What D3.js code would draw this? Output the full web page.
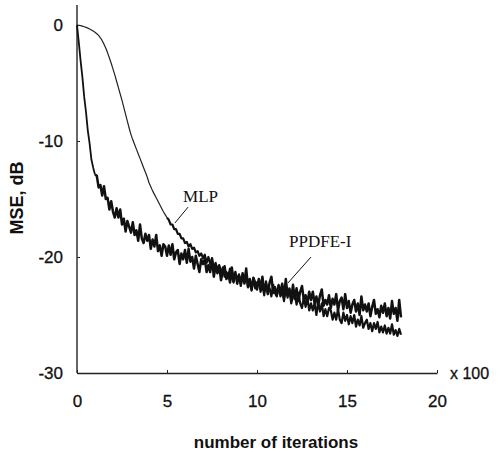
<!DOCTYPE html>
<html>
<head>
<meta charset="utf-8">
<script src="https://cdn.jsdelivr.net/npm/d3@7/dist/d3.min.js"></script>
<style>
  html, body { margin: 0; padding: 0; background: #fff; }
  svg { display: block; }
</style>
</head>
<body>
<svg id="chart" width="500" height="455"></svg>
<script>
// x in hundreds of iterations, sampled every 0.1 (10 iterations)
const iterationStep = 0.1;
const xTicks = [0, 5, 10, 15, 20];
const yTicks = [0, -10, -20, -30];

const mlp = [
  0, -0.02, -0.05, -0.1, -0.15, -0.2, -0.27, -0.35, -0.43, -0.52, -0.62,
  -0.75, -0.9, -1.1, -1.35, -1.65, -2.0, -2.4, -2.85, -3.3, -3.8,
  -4.3, -4.85, -5.4, -5.95, -6.5, -7.1, -7.7, -8.3, -8.9, -9.45,
  -9.9, -10.3, -10.7, -11.1, -11.5, -11.9, -12.3, -12.7, -13.1, -13.6,
  -13.95, -14.3, -14.6, -14.9, -15.2, -15.5, -15.8, -16.1, -16.35, -16.6,
  -16.8, -17.2, -17.2, -17.6, -17.6, -18.0, -18.0, -18.4, -18.4, -18.8,
  -18.7, -19.1, -18.9, -19.3, -19.2, -19.6, -19.5, -19.9, -19.7, -20.1,
  -19.8, -20.5, -20.0, -20.6, -20.2, -20.9, -20.5, -21.1, -20.7, -21.4,
  -20.9, -21.7, -21.3, -21.7, -21.0, -21.8, -22.2, -21.5, -21.9, -21.5,
  -22.5, -21.6, -22.3, -21.5, -22.6, -22.1, -22.9, -21.8, -22.7, -22.2,
  -22.1, -23.0, -22.4, -23.3, -22.1, -23.0, -22.7, -23.4, -22.4, -23.1,
  -23.4, -22.4, -23.4, -22.9, -23.8, -22.7, -23.5, -22.7, -24.0, -23.4,
  -23.3, -24.1, -23.1, -24.0, -24.4, -23.5, -24.3, -23.5, -24.6, -24.0,
  -24.6, -24.0, -25.0, -23.9, -24.7, -24.0, -25.1, -24.5, -25.1, -24.4,
  -24.6, -25.4, -24.8, -25.4, -24.5, -25.4, -25.7, -24.8, -25.5, -25.0,
  -25.8, -25.1, -25.7, -25.0, -26.0, -25.4, -25.9, -25.1, -26.1, -25.7,
  -25.4, -26.2, -25.7, -26.4, -25.7, -26.2, -25.6, -26.5, -26.0, -26.5,
  -25.9, -26.6, -26.1, -26.6, -25.8, -26.7, -26.3, -26.8, -26.2, -26.7
];

const ppdfe = [
  0, -1.5, -3.1, -4.5, -6.2, -7.5, -9.1, -10.2, -11.6, -12.3, -12.9,
  -13.0, -14.0, -13.8, -14.7, -13.9, -15.0, -14.9, -15.9, -15.2, -16.1,
  -16.6, -15.8, -16.6, -15.9, -17.2, -16.7, -17.8, -16.9, -17.4, -17.9,
  -17.0, -18.1, -17.7, -18.6, -17.2, -18.4, -18.8, -18.0, -18.6, -18.1,
  -19.3, -18.5, -19.1, -18.1, -19.5, -19.0, -19.9, -18.9, -19.1, -19.9,
  -19.0, -19.8, -18.9, -20.2, -19.6, -19.4, -20.6, -19.7, -20.2, -19.4,
  -20.5, -19.3, -20.4, -20.0, -21.0, -19.9, -20.6, -21.3, -20.2, -20.6,
  -20.2, -21.3, -20.7, -21.3, -20.1, -21.7, -20.8, -21.4, -20.8, -22.0,
  -21.2, -20.8, -21.9, -21.4, -22.2, -20.9, -22.0, -21.3, -22.3, -21.6,
  -22.3, -21.4, -22.2, -21.0, -22.6, -21.9, -22.8, -21.8, -22.2, -22.8,
  -21.9, -22.7, -21.7, -23.0, -22.3, -23.2, -22.2, -21.7, -23.1, -22.6,
  -23.3, -22.5, -23.0, -22.3, -23.5, -21.9, -23.3, -22.8, -23.6, -22.4,
  -23.6, -22.7, -23.8, -23.0, -22.5, -23.7, -23.3, -24.0, -23.0, -23.7,
  -23.0, -24.0, -23.4, -24.2, -23.3, -22.8, -24.2, -23.7, -24.1, -23.3,
  -24.4, -23.6, -24.1, -23.2, -24.6, -23.8, -23.5, -24.5, -23.2, -24.4,
  -23.8, -24.8, -24.1, -23.7, -24.7, -24.0, -25.0, -23.4, -24.6, -24.1,
  -24.7, -24.0, -25.1, -24.3, -23.7, -24.9, -24.5, -25.2, -24.2, -24.8,
  -24.0, -25.1, -24.4, -25.3, -23.8, -24.9, -24.4, -25.5, -23.7, -25.2
];

// label annotations in data units: [text, labelX, labelY, leaderFromX, leaderFromY, leaderToX, leaderToY]
const labels = [
  ["MLP", 5.89, -15.26, 6.17, -15.7, 5.44, -17.07],
  ["PPDFE-I", 11.78, -19.14, 13.0, -20.0, 11.72, -22.24]
];

const svg = d3.select("#chart");
svg.append("rect").attr("width", 500).attr("height", 455).attr("fill", "#fff");

const x = d3.scaleLinear().domain([0, 20]).range([77, 437]);
const y = d3.scaleLinear().domain([-30, 0]).range([373, 25]);

const sansFont = "'Liberation Sans', Arial, Helvetica, sans-serif";
const serifFont = "'Liberation Serif', 'Times New Roman', serif";
const fmt = d => String(d);

// y axis
const yAxis = svg.append("g")
  .attr("transform", `translate(${x(0)},0)`)
  .call(d3.axisLeft(y).tickValues(yTicks).tickSizeInner(-3).tickSizeOuter(0).tickPadding(14)
    .tickFormat(fmt));
yAxis.select(".domain").remove();
yAxis.append("line")
  .attr("x1", 0).attr("x2", 0)
  .attr("y1", y(-30)).attr("y2", y(0) - 20)
  .attr("stroke", "#333").attr("stroke-width", 1.5);
yAxis.selectAll(".tick line").attr("stroke", "#222");
yAxis.selectAll(".tick text")
  .attr("font-family", sansFont).attr("font-size", 17).attr("fill", "#111")
  .attr("stroke", "#111").attr("stroke-width", 0.3);

// x axis
const xAxis = svg.append("g")
  .attr("transform", `translate(0,${y(-30)})`)
  .call(d3.axisBottom(x).tickValues(xTicks).tickSizeInner(-3).tickSizeOuter(0).tickPadding(22)
    .tickFormat(fmt));
xAxis.select(".domain").attr("stroke", "#222").attr("stroke-width", 1.3);
xAxis.selectAll(".tick line").attr("stroke", "#222");
xAxis.selectAll(".tick text")
  .attr("font-family", sansFont).attr("font-size", 17).attr("fill", "#111")
  .attr("stroke", "#111").attr("stroke-width", 0.3);

// series
const toPoints = arr => arr.map((v, i) => ({ it: i * iterationStep, v }));
const mlpPts = toPoints(mlp);
const ppdfePts = toPoints(ppdfe);

const line = d3.line()
  .x(d => x(d.it))
  .y(d => y(d.v));

// MLP: thin smooth early part, thicker noisy tail
svg.append("path").datum(mlpPts.slice(0, 51))
  .attr("d", line).attr("fill", "none")
  .attr("stroke", "#222").attr("stroke-width", 1.2).attr("stroke-linejoin", "round");
svg.append("path").datum(mlpPts.slice(50))
  .attr("d", line).attr("fill", "none")
  .attr("stroke", "#111").attr("stroke-width", 2.2).attr("stroke-linejoin", "round");

// PPDFE-I: steep early part, dense noisy band afterwards
svg.append("path").datum(ppdfePts.slice(0, 11))
  .attr("d", line).attr("fill", "none")
  .attr("stroke", "#111").attr("stroke-width", 1.8).attr("stroke-linejoin", "round");
svg.append("path").datum(ppdfePts.slice(10))
  .attr("d", line).attr("fill", "none")
  .attr("stroke", "#111").attr("stroke-width", 2.5).attr("stroke-linejoin", "round");

// labels
labels.forEach(l => {
  svg.append("text")
    .attr("x", x(l[1])).attr("y", y(l[2]))
    .attr("font-family", serifFont).attr("font-size", 17).attr("fill", "#111")
    .text(l[0]);
  svg.append("line")
    .attr("x1", x(l[3])).attr("y1", y(l[4]))
    .attr("x2", x(l[5])).attr("y2", y(l[6]))
    .attr("stroke", "#111").attr("stroke-width", 1);
});

// axis titles
svg.append("text")
  .attr("x", 276).attr("y", 448)
  .attr("text-anchor", "middle")
  .attr("font-family", sansFont).attr("font-weight", "bold").attr("font-size", 17)
  .attr("fill", "#111")
  .text("number of iterations");

svg.append("text")
  .attr("transform", "translate(23,198) rotate(-90)")
  .attr("text-anchor", "middle")
  .attr("font-family", sansFont).attr("font-weight", "bold").attr("font-size", 18)
  .attr("fill", "#111")
  .text("MSE, dB");

svg.append("text")
  .attr("x", 450).attr("y", 379)
  .attr("font-family", sansFont).attr("font-size", 16).attr("fill", "#111")
  .attr("stroke", "#111").attr("stroke-width", 0.3)
  .text("x 100");
</script>
</body>
</html>
